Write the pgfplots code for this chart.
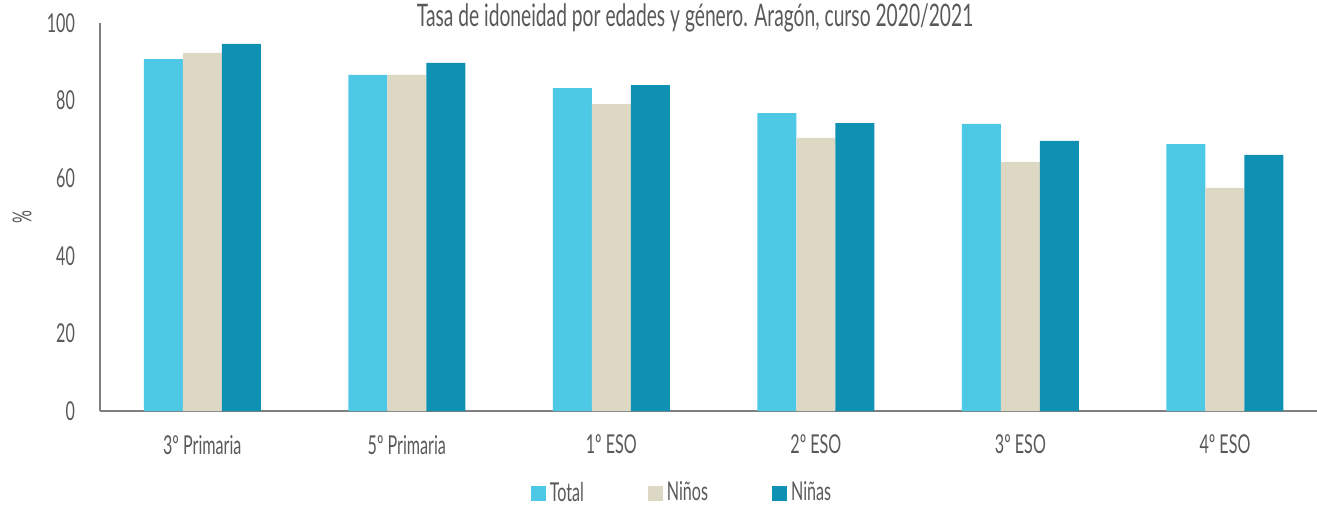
\documentclass[border=0pt]{standalone}
\usepackage{pgfplots}
\pgfplotsset{compat=1.18}
\usepackage{fontspec}
\setmainfont{Lato}[FakeStretch=0.62]
\definecolor{cTotal}{HTML}{4DC9E6}
\definecolor{cNinos}{HTML}{DDD8C3}
\definecolor{cNinas}{HTML}{0E91B2}
\definecolor{txt}{HTML}{595959}
\definecolor{axl}{HTML}{7F7F7F}
\begin{document}
\begin{tikzpicture}
\begin{axis}[name=ax, scale only axis, width=608.5pt, height=194pt,
  ybar=0pt, bar width=19.5pt,
  xmin=-0.5, xmax=5.45, ymin=0, ymax=100,
  xtick=data, xticklabels={3º Primaria,5º Primaria,1º ESO,2º ESO,3º ESO,4º ESO},
  ytick={0,20,...,100},
  axis x line*=bottom, axis y line*=left,
  axis line style={axl, line width=1pt, -},
  major tick length=0pt,
  tick label style={font=\fontsize{13}{15}\selectfont, text=txt},
  /pgf/number format/assume math mode=true,
  yticklabel style={xshift=-9pt},
  xticklabel style={yshift=-8.5pt},
  ylabel={\%},
  ylabel style={at={(axis description cs:-0.064,0.5)}, anchor=center, font=\fontsize{13}{15}\selectfont, text=txt},
  title={Tasa de idoneidad por edades y género. Aragón, curso 2020/2021},
  every axis title/.style={at={(axis description cs:0.489,1)}, anchor=base, yshift=-1.5pt, font=\fontsize{15.5}{17}\selectfont, text=txt},
  legend columns=3,
  legend style={at={(axis description cs:0.479,0)}, anchor=center, yshift=-41pt, draw=none, font=\fontsize{13}{15}\selectfont, text=txt,
    /tikz/every even column/.append style={column sep=30pt}},
  legend image code/.code={\fill[#1] (0pt,-3.75pt) rectangle (7.5pt,3.75pt);},
]
\addplot[fill=cTotal, draw=none] coordinates {(0,90.7) (1,86.6) (2,83.2) (3,76.8) (4,74.0) (5,68.8)};
\addplot[fill=cNinos, draw=none] coordinates {(0,92.3) (1,86.6) (2,79.1) (3,70.4) (4,64.2) (5,57.5)};
\addplot[fill=cNinas, draw=none] coordinates {(0,94.6) (1,89.7) (2,84.0) (3,74.2) (4,69.6) (5,66.0)};
\legend{Total,Niños,Niñas}
\end{axis}
\pgfresetboundingbox
\path[use as bounding box] ([xshift=-50pt,yshift=-47pt]ax.south west) rectangle ([yshift=11.5pt]ax.north east);
\end{tikzpicture}
\end{document}
